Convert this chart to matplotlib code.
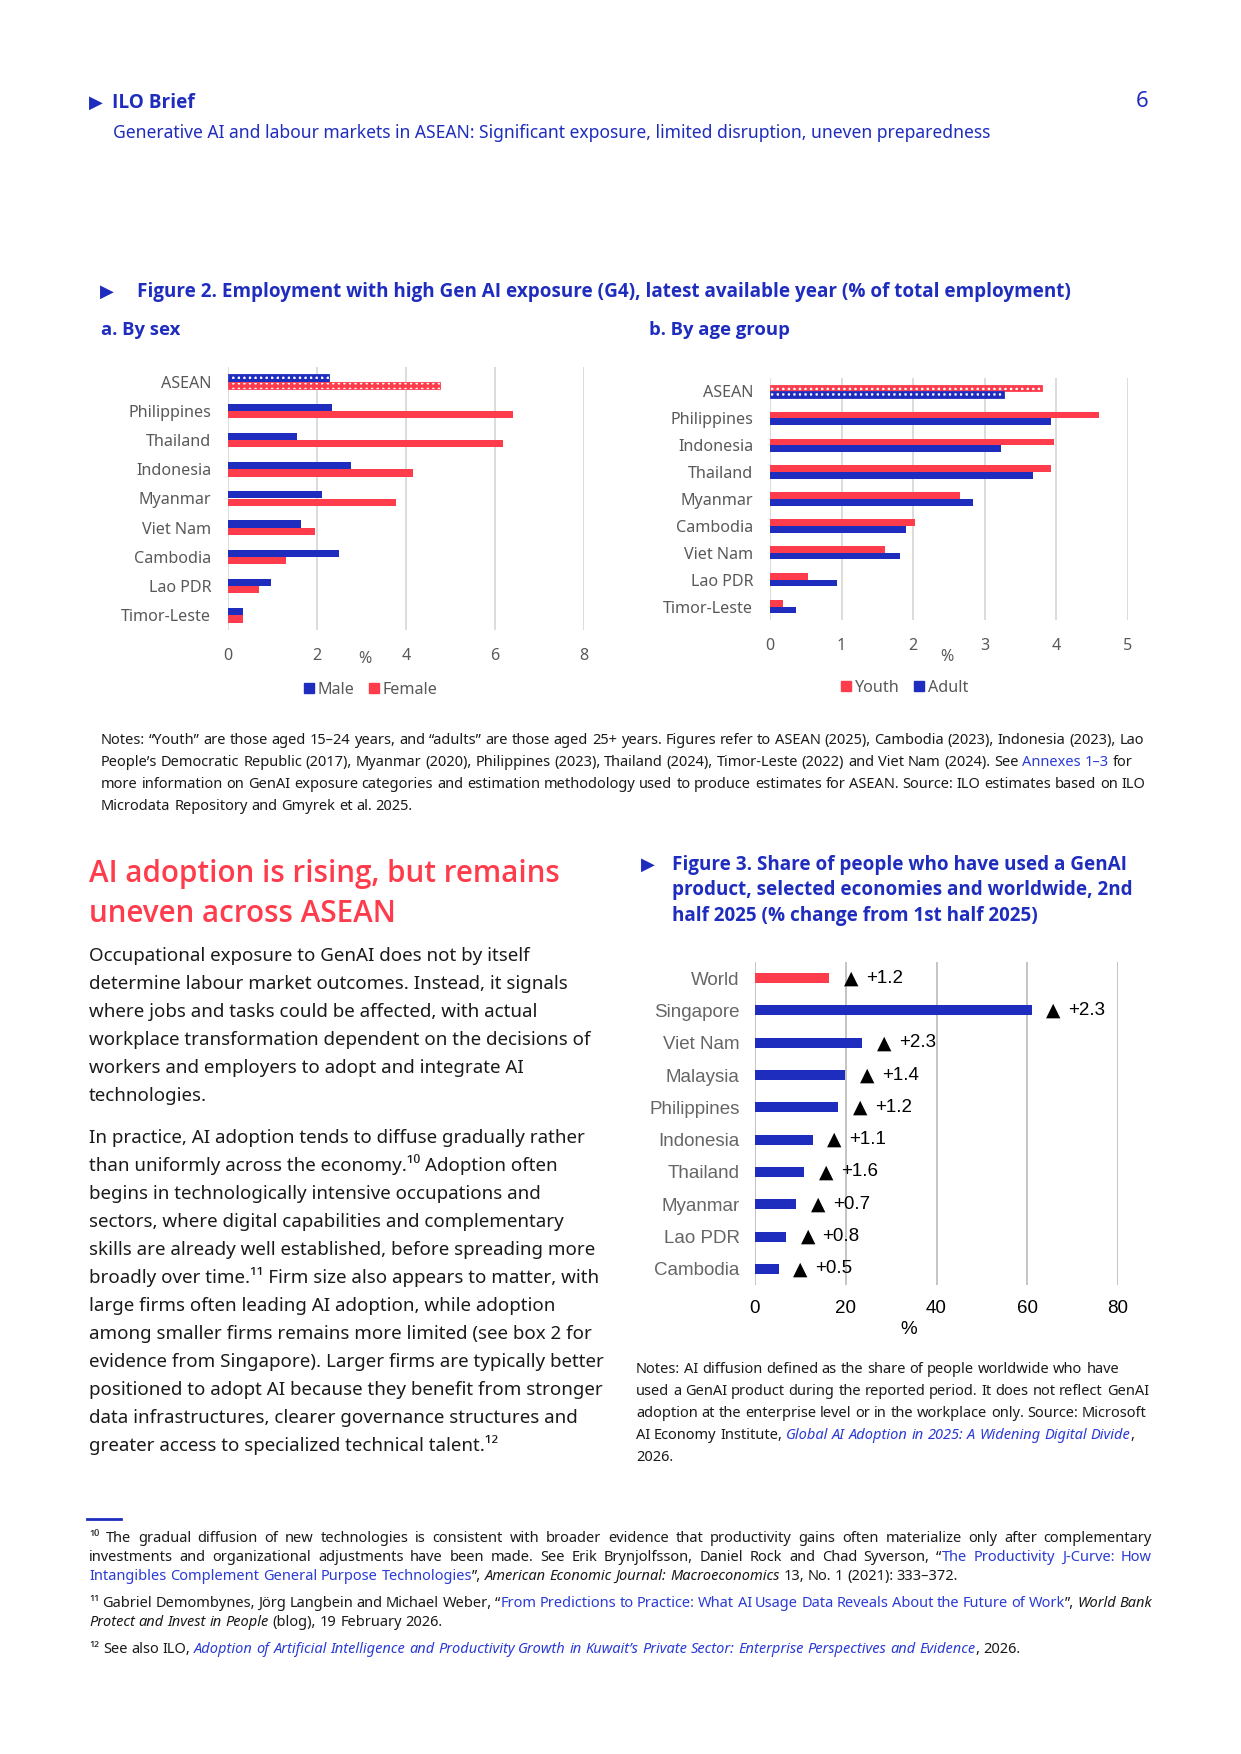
import matplotlib
matplotlib.use('Agg')
from matplotlib import pyplot as plt
from matplotlib.patches import Patch

# chart data
sex_countries = ['ASEAN', 'Philippines', 'Thailand', 'Indonesia', 'Myanmar',
                 'Viet Nam', 'Cambodia', 'Lao PDR', 'Timor-Leste']
male = [2.28, 2.34, 1.56, 2.77, 2.11, 1.65, 2.50, 0.97, 0.34]
female = [4.77, 6.40, 6.19, 4.15, 3.78, 1.95, 1.30, 0.70, 0.34]

age_countries = ['ASEAN', 'Philippines', 'Indonesia', 'Thailand', 'Myanmar',
                 'Cambodia', 'Viet Nam', 'Lao PDR', 'Timor-Leste']
youth = [3.80, 4.59, 3.96, 3.93, 2.65, 2.03, 1.61, 0.53, 0.18]
adult = [3.27, 3.93, 3.22, 3.67, 2.83, 1.90, 1.81, 0.94, 0.37]

use_economies = ['World', 'Singapore', 'Viet Nam', 'Malaysia', 'Philippines',
                 'Indonesia', 'Thailand', 'Myanmar', 'Lao PDR', 'Cambodia']
use_share = [16.3, 61.0, 23.6, 19.9, 18.4, 12.7, 10.8, 9.1, 6.8, 5.2]
use_change = [1.2, 2.3, 2.3, 1.4, 1.2, 1.1, 1.6, 0.7, 0.8, 0.5]

BLUE = '#1f2dbe'
RED = '#ff3c4c'
LINK = '#2a3bd6'
INK = '#1a1a1a'
GREY = '#595959'
GRID = '#d9d9d9'
BODY = ['Noto Sans', 'DejaVu Sans']
BOLD = ['Open Sans', 'DejaVu Sans']
ARIAL = ['Liberation Sans', 'DejaVu Sans']

plt.rcParams['hatch.linewidth'] = 2.3

W, H = 1241, 1754
fig = plt.figure(figsize=(W / 100, H / 100), dpi=100)
renderer = fig.canvas.get_renderer()


def fx(x):
    return x / W


def fy(y):
    return 1 - y / H


def put(x, y, s, **kw):
    kw.setdefault('family', BODY)
    kw.setdefault('va', 'baseline')
    return fig.text(fx(x), fy(y), s, **kw)


def width_of(s, size, style='normal'):
    t = fig.text(0, 0, 'x' + s + 'x', fontsize=size, style=style, family=BODY)
    t2 = fig.text(0, 0, 'xx', fontsize=size, style=style, family=BODY)
    w = t.get_window_extent(renderer).width - t2.get_window_extent(renderer).width
    t.remove()
    t2.remove()
    return w


def line(x, y, parts, size, width=None):
    # parts: (text, colour, style); words are placed one by one
    toks = []
    gap = False
    for s, c, st in parts:
        for i, p in enumerate(s.split(' ')):
            if i > 0:
                gap = True
            if p:
                toks.append((p, c, st, gap))
                gap = False
    ws = [width_of(p, size, st) for p, c, st, g in toks]
    sp = width_of(' ', size)
    ngap = sum(1 for t in toks if t[3])
    if width is not None and ngap:
        sp = (width - sum(ws)) / ngap
    for (p, c, st, g), w in zip(toks, ws):
        if g:
            x += sp
        put(x, y, p, fontsize=size, color=c, style=st)
        x += w


# header
put(89, 108, '\u25b6', fontsize=13, color=BLUE, family=['DejaVu Sans'])
put(112, 108, 'ILO Brief', fontsize=13.7, color=BLUE, weight='bold',
    family=BOLD)
put(113, 138, 'Generative AI and labour markets in ASEAN: Significant exposure, '
    'limited disruption, uneven preparedness', fontsize=12.6, color=BLUE)
put(1136, 107, '6', fontsize=16, color=BLUE)

# figure 2 titles
put(100, 297, '\u25b6', fontsize=13, color=BLUE, family=['DejaVu Sans'])
put(137, 297, 'Figure 2. Employment with high Gen AI exposure (G4), latest '
    'available year (% of total employment)', fontsize=13.55, color=BLUE,
    weight='bold', family=BOLD)
put(101, 335, 'a. By sex', fontsize=13.3, color=BLUE, weight='bold', family=BOLD)
put(649, 335, 'b. By age group', fontsize=13.3, color=BLUE, weight='bold',
    family=BOLD)


def pair_chart(rect, cats, first, second, c1, c2, xmax, step, labels,
               legend_x, legend_y, pct_x, pct_y, pad_x):
    x0, y0, x1, y1 = rect
    ax = fig.add_axes([fx(x0), fy(y1), fx(x1 - x0), (y1 - y0) / H])
    ypos = list(range(len(cats)))
    h = 0.25
    b1 = ax.barh([y - h / 2 for y in ypos], first, height=h, color=c1, zorder=2)
    b2 = ax.barh([y + h / 2 for y in ypos], second, height=h, color=c2, zorder=2)
    # the regional aggregate is drawn with a chequered fill
    for bars, c in ((b1, c1), (b2, c2)):
        p = bars.patches[0]
        p.set_facecolor('white')
        p.set_edgecolor(c)
        p.set_hatch('+++')
        p.set_linewidth(0.6)
    ax.set_xlim(0, xmax)
    ax.set_ylim(len(cats) - 0.5, -0.5)
    ax.set_xticks(range(0, xmax + 1, step))
    ax.set_yticks(ypos)
    ax.set_yticklabels(cats)
    ax.grid(axis='x', color=GRID, linewidth=1.3, zorder=0)
    for s in ax.spines.values():
        s.set_visible(False)
    ax.tick_params(length=0, labelsize=11.6, labelcolor=GREY)
    ax.tick_params(axis='x', pad=pad_x)
    ax.tick_params(axis='y', pad=12)
    for t in ax.get_xticklabels() + ax.get_yticklabels():
        t.set_family(BODY)
    put(pct_x, pct_y, '%', fontsize=11.6, color=GREY, ha='center',
        va='center')
    handles = [Patch(color=c1, label=labels[0]), Patch(color=c2, label=labels[1])]
    leg = ax.legend(handles=handles, loc='center', ncol=2, frameon=False,
                    bbox_to_anchor=(fx(legend_x), fy(legend_y)),
                    bbox_transform=fig.transFigure, handlelength=0.6,
                    handleheight=0.6, handletextpad=0.25, columnspacing=0.9,
                    prop={'family': BODY, 'size': 11.6})
    for t in leg.get_texts():
        t.set_color(GREY)
    return ax


pair_chart((228, 367, 584, 630), sex_countries, male, female, BLUE, RED, 8, 2,
           ('Male', 'Female'), 371, 690, 365, 659, 13)
pair_chart((770, 378, 1128, 620), age_countries, youth, adult, RED, BLUE, 5, 1,
           ('Youth', 'Adult'), 905, 688, 947, 657, 13)

# figure 2 notes
nsz = 10.5
line(101, 744, [('Notes: \u201cYouth\u201d are those aged 15\u201324 years, and '
                 '\u201cadults\u201d are those aged 25+ years. Figures refer to ASEAN '
                 '(2025), Cambodia (2023), Indonesia (2023), Lao', INK, 'normal')], nsz)
line(101, 766, [('People\u2019s Democratic Republic (2017), Myanmar (2020), '
                 'Philippines (2023), Thailand (2024), Timor-Leste (2022) and Viet '
                 'Nam (2024). See ', INK, 'normal'),
                ('Annexes 1\u20133', LINK, 'normal'), (' for', INK, 'normal')], nsz)
line(101, 788, [('more information on GenAI exposure categories and estimation '
                 'methodology used to produce estimates for ASEAN.  Source: ILO '
                 'estimates based on ILO', INK, 'normal')], nsz)
line(101, 810, [('Microdata Repository and Gmyrek et al. 2025.', INK, 'normal')], nsz)

# section heading and body text
put(89, 882, 'AI adoption is rising, but remains', fontsize=21.3, color=RED,
    weight='semibold', family=BOLD)
put(89, 922, 'uneven across ASEAN', fontsize=21.3, color=RED, weight='semibold',
    family=BOLD)

body = [
    'Occupational exposure to GenAI does not by itself',
    'determine labour market outcomes. Instead, it signals',
    'where jobs and tasks could be affected, with actual',
    'workplace transformation dependent on the decisions of',
    'workers and employers to adopt and integrate AI',
    'technologies.',
    None,
    'In practice, AI adoption tends to diffuse gradually rather',
    'than uniformly across the economy.\u00b9\u2070 Adoption often',
    'begins in technologically intensive occupations and',
    'sectors, where digital capabilities and complementary',
    'skills are already well established, before spreading more',
    'broadly over time.\u00b9\u00b9 Firm size also appears to matter, with',
    'large firms often leading AI adoption, while adoption',
    'among smaller firms remains more limited (see box 2 for',
    'evidence from Singapore). Larger firms are typically better',
    'positioned to adopt AI because they benefit from stronger',
    'data infrastructures, clearer governance structures and',
    'greater access to specialized technical talent.\u00b9\u00b2',
]
y = 961
for s in body:
    if s is None:
        y += 14
        continue
    put(89, y, s, fontsize=13.5, color=INK)
    y += 28

# figure 3 title
put(641, 870, '\u25b6', fontsize=13, color=BLUE, family=['DejaVu Sans'])
for i, s in enumerate(['Figure 3. Share of people who have used a GenAI',
                       'product, selected economies and worldwide, 2nd',
                       'half 2025 (% change from 1st half 2025)']):
    put(672, 870 + 25.5 * i, s, fontsize=13.6, color=BLUE, weight='bold',
        family=BOLD)

# figure 3 chart
ax3 = fig.add_axes([fx(755), fy(1285), fx(1118 - 755), (1285 - 962) / H])
ypos = list(range(len(use_economies)))
colors = [RED] + [BLUE] * (len(use_economies) - 1)
ax3.barh(ypos, use_share, height=0.31, color=colors, zorder=2)
for y, v, d in zip(ypos, use_share, use_change):
    ax3.text(v + 4.8, y, '\u25b2', ha='center', va='center', fontsize=13.5,
             family=['DejaVu Sans'], color='black')
    ax3.text(v + 8.1, y, f'+{d:.1f}', ha='left', va='center', fontsize=13.5,
             family=ARIAL, color='black')
ax3.set_xlim(0, 80)
ax3.set_ylim(len(use_economies) - 0.5, -0.5)
ax3.set_xticks(range(0, 81, 20))
ax3.set_yticks(ypos)
ax3.set_yticklabels(use_economies)
ax3.grid(axis='x', color='#bfbfbf', linewidth=1.3, zorder=0)
for s in ax3.spines.values():
    s.set_visible(False)
ax3.tick_params(length=0, labelsize=13.5)
ax3.tick_params(axis='x', pad=11, labelcolor='black')
ax3.tick_params(axis='y', pad=11, labelcolor='#666666')
for t in ax3.get_xticklabels() + ax3.get_yticklabels():
    t.set_family(ARIAL)
put(909, 1329, '%', fontsize=13.5, color='black', ha='center', va='center',
    family=ARIAL)

# figure 3 notes
line(636, 1373, [('Notes: AI diffusion defined as the share of people worldwide '
                  'who have', INK, 'normal')], nsz)
line(636, 1395, [('used a GenAI product during the reported period. It does not '
                  'reflect GenAI', INK, 'normal')], nsz)
line(636, 1417, [('adoption at the enterprise level or in the workplace only. '
                  'Source: Microsoft', INK, 'normal')], nsz)
line(636, 1439, [('AI Economy Institute, ', INK, 'normal'),
                 ('Global AI Adoption in 2025: A Widening Digital Divide', LINK,
                  'italic'), (',', INK, 'normal')], nsz)
line(636, 1461, [('2026.', INK, 'normal')], nsz)

# footnotes
fig.add_artist(plt.Line2D([fx(87), fx(121)], [fy(1519), fy(1519)],
                          color=BLUE, linewidth=2))
fsz = 10.5
fw = 1152 - 89
line(89, 1542, [('\u00b9\u2070 The gradual diffusion of new technologies is '
                 'consistent with broader evidence that productivity gains often '
                 'materialize only after complementary', INK, 'normal')], fsz, fw)
line(89, 1561, [('investments and organizational adjustments have been made. See '
                 'Erik Brynjolfsson, Daniel Rock and Chad Syverson, \u201c', INK,
                 'normal'), ('The Productivity J-Curve: How', LINK, 'normal')],
     fsz, fw)
line(89, 1580, [('Intangibles Complement General Purpose Technologies', LINK,
                 'normal'), ('\u201d, ', INK, 'normal'),
                ('American Economic Journal: Macroeconomics', INK, 'italic'),
                (' 13, No. 1 (2021): 333\u2013372.', INK, 'normal')], fsz)
line(89, 1607, [('\u00b9\u00b9 Gabriel Demombynes, J\u00f6rg Langbein and Michael '
                 'Weber, \u201c', INK, 'normal'),
                ('From Predictions to Practice: What AI Usage Data Reveals About '
                 'the Future of Work', LINK, 'normal'), ('\u201d, ', INK, 'normal'),
                ('World Bank', INK, 'italic')], fsz, fw)
line(89, 1626, [('Protect and Invest in People', INK, 'italic'),
                (' (blog), 19 February 2026.', INK, 'normal')], fsz)
line(89, 1653, [('\u00b9\u00b2 See also ILO, ', INK, 'normal'),
                ('Adoption of Artificial Intelligence and Productivity Growth in '
                 'Kuwait\u2019s Private Sector: Enterprise Perspectives and Evidence',
                 LINK, 'italic'), (', 2026.', INK, 'normal')], fsz)

fig.savefig('out.png', dpi=100, facecolor='white')
